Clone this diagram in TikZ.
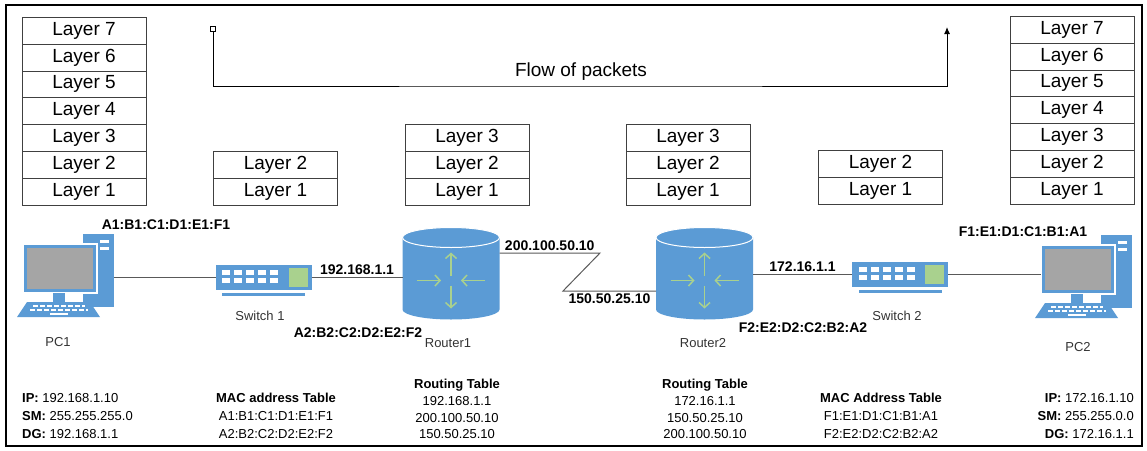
\documentclass[tikz,border=0pt]{standalone}
\usepackage{fontspec}
\setmainfont{Liberation Sans}
\usetikzlibrary{arrows.meta,positioning}

\definecolor{netblue}{HTML}{5B9BD5}
\definecolor{screengray}{HTML}{A5A5A5}
\definecolor{portgreen}{HTML}{A9D18E}
\definecolor{wiregray}{HTML}{595959}

\begin{document}
\begin{tikzpicture}[x=1pt,y=-1pt]
    \tikzset{Layer/.style={%
        shape=rectangle,%
        draw=black!75,%
        line width=0.9pt,%
        minimum width=124pt,%
        minimum height=26.8pt,%
        inner sep=0pt,%
        outer sep=0pt,%
        font=\fontsize{19}{22}\selectfont,%
    }}
    \tikzset{Addr/.style={font=\fontsize{14}{16}\selectfont\bfseries, inner sep=2pt}}
    \tikzset{Caption/.style={font=\fontsize{13}{15}\selectfont, text=black!80, inner sep=0pt}}
    \tikzset{Info/.style={font=\fontsize{13}{18}\selectfont, inner sep=0pt}}
    \tikzset{Wire/.style={draw=wiregray, line width=1pt}}

    % desktop computer, origin in the middle of the monitor
    \tikzset{pc/.pic={%
        \fill[netblue] (23,-34.5) rectangle (54,38);
        \fill[white] (40,-28.5) rectangle (49,-26);
        \fill[white] (40,-21.5) rectangle (49,-18.5);
        \filldraw[fill=netblue, draw=white, line width=1.2pt] (-37,-24.5) rectangle (37,24.5);
        \fill[screengray] (-33,-20.5) rectangle (33,20.5);
        \fill[netblue] (-7,24.5) rectangle (5,34);
        \fill[netblue] (-33,33.5) -- (30,33.5) -- (40,48.5) -- (-43,48.5) -- cycle;
        \draw[white, line width=2pt, dash pattern=on 5pt off 2pt] (-27,37.5) -- (25,37.5);
        \draw[white, line width=2pt, dash pattern=on 5pt off 2pt] (-30,41.5) -- (28,41.5);
        \draw[white, line width=2pt] (-10,45.5) -- (8,45.5);
        \coordinate (-east) at (54,8.5);
        \coordinate (-west) at (-37,3.5);
    }}
    % switch with two rows of ports
    \tikzset{switchbox/.pic={%
        \fill[netblue] (-48,-12.5) rectangle (48,12.5);
        \fill[portgreen] (25,-9.5) rectangle (44,9.5);
        \foreach \i in {0,...,4}{
            \fill[white] (-41.5+12*\i,-7.5) rectangle ++(8,4.5);
            \fill[white] (-41.5+12*\i,0.5) rectangle ++(8,4.5);
        }
        \fill[netblue] (-41.5,15.5) rectangle (41.5,18);
        \coordinate (-west) at (-48,0);
        \coordinate (-east) at (48,0);
    }}
    % router drum
    \tikzset{router/.pic={%
        \fill[netblue] (-48.5,-36) -- (-48.5,36) arc[start angle=180, end angle=0, x radius=48.5, y radius=10] -- (48.5,-36) -- cycle;
        \filldraw[fill=netblue, draw=white, line width=1pt] (0,-36) ellipse[x radius=48.5, y radius=10];
        \begin{scope}[portgreen, line width=1.5pt, -{Straight Barb[length=5pt,width=11pt]}]
            \draw (0,2) -- (0,-21);
            \draw (0,12) -- (0,35);
            \draw (-34,7) -- (-10,7);
            \draw (34,7) -- (10,7);
        \end{scope}
        \coordinate (-west) at (-48.5,0);
        \coordinate (-east) at (48.5,0);
    }}

    \useasboundingbox (0,0) rectangle (1147,450);
    \draw[line width=2.5pt] (6,5) rectangle (1142,446);

    % layer stacks
    \node[Layer, anchor=south] (pc1l1) at (84,205) {Layer 1};
    \node[Layer, above=0pt of pc1l1] (pc1l2) {Layer 2};
    \node[Layer, above=0pt of pc1l2] (pc1l3) {Layer 3};
    \node[Layer, above=0pt of pc1l3] (pc1l4) {Layer 4};
    \node[Layer, above=0pt of pc1l4] (pc1l5) {Layer 5};
    \node[Layer, above=0pt of pc1l5] (pc1l6) {Layer 6};
    \node[Layer, above=0pt of pc1l6] (pc1l7) {Layer 7};

    \node[Layer, anchor=south] (sw1l1) at (275.5,205) {Layer 1};
    \node[Layer, above=0pt of sw1l1] (sw1l2) {Layer 2};

    \node[Layer, anchor=south] (r1l1) at (467,205) {Layer 1};
    \node[Layer, above=0pt of r1l1] (r1l2) {Layer 2};
    \node[Layer, above=0pt of r1l2] (r1l3) {Layer 3};

    \node[Layer, anchor=south] (r2l1) at (688,205) {Layer 1};
    \node[Layer, above=0pt of r2l1] (r2l2) {Layer 2};
    \node[Layer, above=0pt of r2l2] (r2l3) {Layer 3};

    \node[Layer, anchor=south] (sw2l1) at (880.5,204) {Layer 1};
    \node[Layer, above=0pt of sw2l1] (sw2l2) {Layer 2};

    \node[Layer, anchor=south] (pc2l1) at (1072,204) {Layer 1};
    \node[Layer, above=0pt of pc2l1] (pc2l2) {Layer 2};
    \node[Layer, above=0pt of pc2l2] (pc2l3) {Layer 3};
    \node[Layer, above=0pt of pc2l3] (pc2l4) {Layer 4};
    \node[Layer, above=0pt of pc2l4] (pc2l5) {Layer 5};
    \node[Layer, above=0pt of pc2l5] (pc2l6) {Layer 6};
    \node[Layer, above=0pt of pc2l6] (pc2l7) {Layer 7};

    % flow of packets
    \node[draw, fill=white, inner sep=0pt, minimum size=5pt, line width=0.8pt] (flowstart) at (213,29) {};
    \coordinate (flowmid) at (581,86);
    \coordinate (flowend) at (947,27);
    \draw[line width=1pt, -{Latex[length=7pt,width=6pt]}] (flowstart) |- (flowmid) -| (flowend);
    \node[font=\fontsize{19}{22}\selectfont] (flowlabel) at (581,72) {Flow of packets};

    % devices
    \pic (pc1) at (60,268.5) {pc};
    \pic (sw1) at (263.5,277.5) {switchbox};
    \pic (r1) at (451,273.5) {router};
    \pic (r2) at (704.5,273.5) {router};
    \pic (sw2) at (900,274.5) {switchbox};
    \pic (pc2) at (1078,269.5) {pc};

    % links
    \coordinate (ztop) at (600,253);
    \coordinate (zbot) at (563,291);
    \draw[Wire] (pc1-east) -- (pc1-east -| sw1-west);
    \draw[Wire] (sw1-east) -- node[Addr, above]{192.168.1.1} (sw1-east -| r1-west);
    \draw[Wire] (r1-east |- ztop) -- node[Addr, above]{200.100.50.10} (ztop) -- (zbot) -- node[Addr, below]{150.50.25.10} (zbot -| r2-west);
    \draw[Wire] (r2-east |- sw2-west) -- node[Addr, above]{172.16.1.1} (sw2-west);
    \draw[Wire] (sw2-east) -- (sw2-east -| pc2-west);

    % device names and MAC addresses
    \node[Caption] (pc1name) at (58,342) {PC1};
    \node[Caption] (sw1name) at (260,316) {Switch 1};
    \node[Caption] (r1name) at (448,343) {Router1};
    \node[Caption] (r2name) at (703,343) {Router2};
    \node[Caption] (sw2name) at (897,316) {Switch 2};
    \node[Caption] (pc2name) at (1078,347) {PC2};
    \node[Addr] (pc1mac) at (166,225) {A1:B1:C1:D1:E1:F1};
    \node[Addr] (r1mac) at (358,333) {A2:B2:C2:D2:E2:F2};
    \node[Addr] (r2mac) at (803,328) {F2:E2:D2:C2:B2:A2};
    \node[Addr] (pc2mac) at (1023,232) {F1:E1:D1:C1:B1:A1};

    % tables
    \node[Info, anchor=north west, align=left] (pc1info) at (22,393.2)
        {\textbf{IP:} 192.168.1.10\\\textbf{SM:} 255.255.255.0\\\textbf{DG:} 192.168.1.1};
    \node[Info, anchor=north, align=center] (sw1table) at (276,393.2)
        {\textbf{MAC address Table}\\A1:B1:C1:D1:E1:F1\\A2:B2:C2:D2:E2:F2};
    \node[Info, anchor=north, align=center, font=\fontsize{13}{16.7}\selectfont] (r1table) at (457,379.2)
        {\textbf{Routing Table}\\192.168.1.1\\200.100.50.10\\150.50.25.10};
    \node[Info, anchor=north, align=center, font=\fontsize{13}{16.7}\selectfont] (r2table) at (705,379.2)
        {\textbf{Routing Table}\\172.16.1.1\\150.50.25.10\\200.100.50.10};
    \node[Info, anchor=north, align=center] (sw2table) at (881,393.2)
        {\textbf{MAC Address Table}\\F1:E1:D1:C1:B1:A1\\F2:E2:D2:C2:B2:A2};
    \node[Info, anchor=north east, align=right] (pc2info) at (1134,393.2)
        {\textbf{IP:} 172.16.1.10\\\textbf{SM:} 255.255.0.0\\\textbf{DG:} 172.16.1.1};
\end{tikzpicture}
\end{document}
